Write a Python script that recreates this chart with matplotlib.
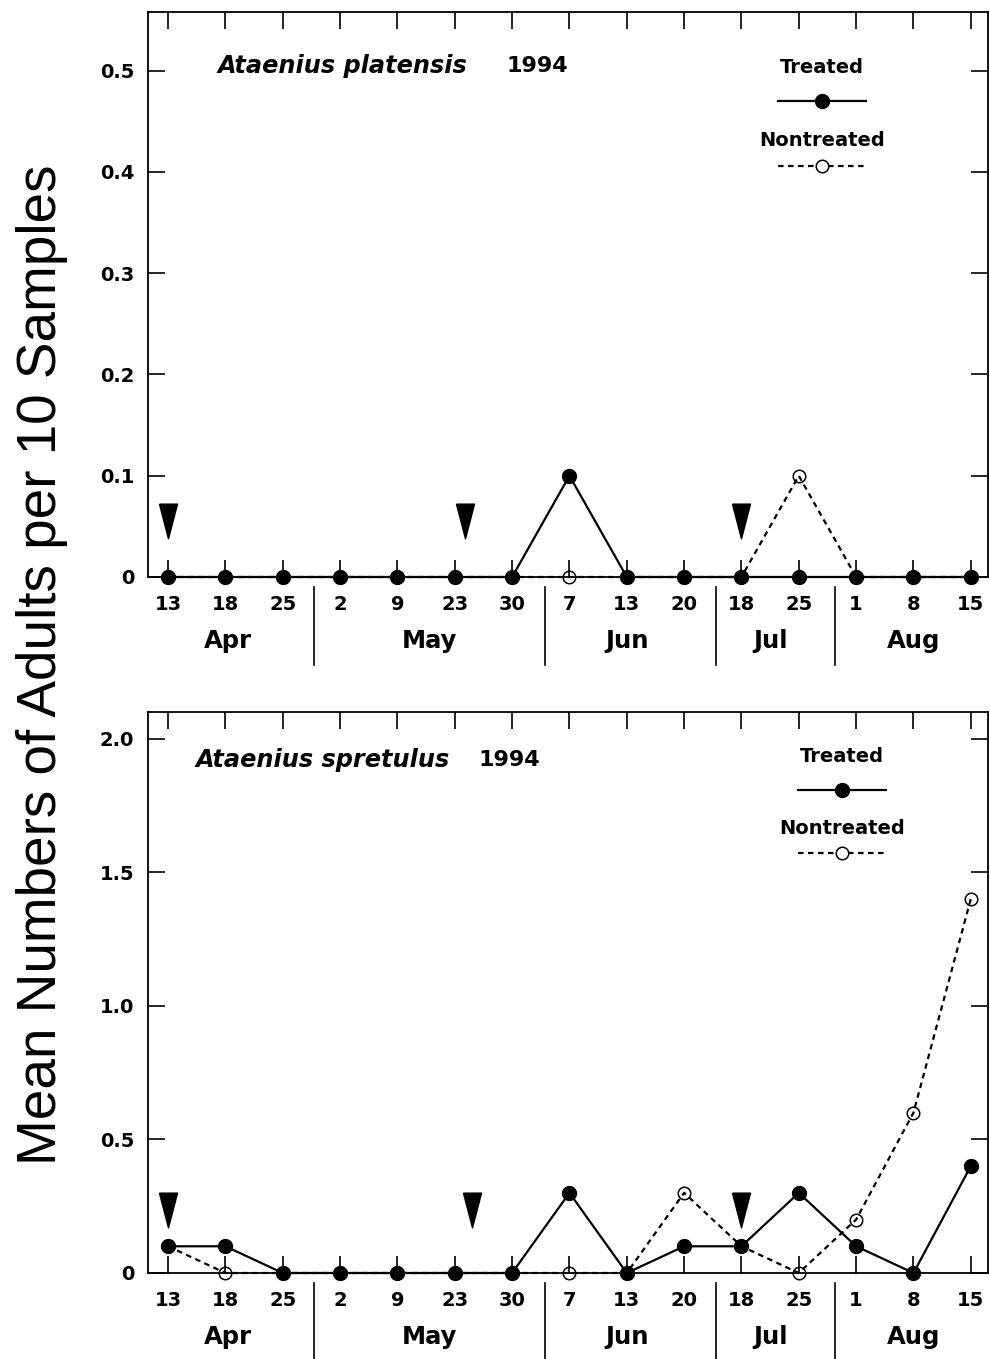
import matplotlib
matplotlib.use("Agg")
import matplotlib.pyplot as plt
from matplotlib.transforms import blended_transform_factory

plt.rcParams['font.family'] = ['DejaVu Sans']

# fechas de muestreo (1994) y meses
dates = ['13', '18', '25', '2', '9', '23', '30', '7', '13', '20', '18', '25', '1', '8', '15']
months = ['Apr', 'May', 'Jun', 'Jul', 'Aug']
month_centers = [1.05, 4.55, 8.0, 10.5, 13.0]
month_breaks = [2.55, 6.58, 9.56, 11.64]

# medias por 10 muestras
platensis_treated = [0, 0, 0, 0, 0, 0, 0, 0.1, 0, 0, 0, 0, 0, 0, 0]
platensis_nontreated = [0, 0, 0, 0, 0, 0, 0, 0, 0, 0, 0, 0.1, 0, 0, 0]
spretulus_treated = [0.1, 0.1, 0, 0, 0, 0, 0, 0.3, 0, 0.1, 0.1, 0.3, 0.1, 0, 0.4]
spretulus_nontreated = [0.1, 0, 0, 0, 0, 0, 0, 0, 0, 0.3, 0.1, 0, 0.2, 0.6, 1.4]

# aplicaciones (flechas)
platensis_arrows_x = [0, 5.18, 10]
platensis_arrow_y = 0.055
spretulus_arrows_x = [0, 5.3, 10]
spretulus_arrow_y = 0.236

W, H = 990, 1359
fig = plt.figure(figsize=(W / 100, H / 100), dpi=100)

arrow_marker = [(-0.26, 0.5), (0.26, 0.5), (0, -0.5), (-0.26, 0.5)]


def panel(rect, treated, nontreated, ymax, yticks, ylabels, species, title_x, year_x, title_y,
          leg, arrows_x, arrow_y):
    ax = fig.add_axes(rect)
    x = list(range(len(dates)))
    ax.plot(x, nontreated, ls=(0, (2.5, 2)), color='black', lw=1.6, marker='o', ms=9,
            mfc='none', mec='black', mew=1.1, clip_on=False, zorder=3)
    ax.plot(x, treated, ls='-', color='black', lw=1.6, marker='o', ms=10,
            mfc='black', mec='black', clip_on=False, zorder=4)
    ax.plot(arrows_x, [arrow_y] * len(arrows_x), ls='none', marker=arrow_marker, ms=25,
            color='black', zorder=5)

    ax.set_xlim(-0.35, 14.3)
    ax.set_ylim(0, ymax)
    ax.set_yticks(yticks)
    ax.set_yticklabels(ylabels, fontsize=14, fontweight='bold')
    ax.set_xticks(x)
    ax.set_xticklabels(dates, fontsize=14, fontweight='bold')
    ax.tick_params(axis='both', direction='in', length=12, width=1.2,
                   top=True, right=True)
    ax.tick_params(axis='x', pad=13)
    ax.tick_params(axis='y', pad=10)
    for s in ax.spines.values():
        s.set_linewidth(1.3)

    # meses bajo el eje
    ax_h = rect[3] * H
    trans = blended_transform_factory(ax.transData, ax.transAxes)
    for xb in month_breaks:
        ax.plot([xb, xb], [-10 / ax_h, -88 / ax_h], color='black', lw=1.2,
                transform=trans, clip_on=False)
    for xc, m in zip(month_centers, months):
        ax.text(xc, -64 / ax_h, m, transform=trans, ha='center', va='center',
                fontsize=17.5, fontweight='bold')

    ax.text(title_x, title_y, species, transform=ax.transAxes, fontsize=17.3,
            fontweight='bold', fontstyle='italic', va='center', ha='left')
    ax.text(year_x, title_y, '1994', transform=ax.transAxes, fontsize=16,
            fontweight='bold', va='center', ha='left')

    # leyenda manual
    lx0, lx1, ty1, ly1, ty2, ly2 = leg
    lxm = (lx0 + lx1) / 2
    ax.text(lxm, ty1, 'Treated', transform=ax.transAxes, ha='center', va='center',
            fontsize=14, fontweight='bold')
    ax.plot([lx0, lx1], [ly1, ly1], color='black', lw=1.6, transform=ax.transAxes)
    ax.plot([lxm], [ly1], marker='o', ms=10, color='black', transform=ax.transAxes)
    ax.text(lxm, ty2, 'Nontreated', transform=ax.transAxes, ha='center', va='center',
            fontsize=14, fontweight='bold')
    ax.plot([lx0, lx1], [ly2, ly2], color='black', lw=1.6, ls=(0, (2.5, 2)),
            transform=ax.transAxes)
    ax.plot([lxm], [ly2], marker='o', ms=9, mfc='white', mec='black', mew=1.1,
            transform=ax.transAxes)
    return ax


r1 = [148 / W, (H - 577) / H, 840 / W, 565 / H]
panel(r1, platensis_treated, platensis_nontreated, 0.558,
      [0, 0.1, 0.2, 0.3, 0.4, 0.5], ['0', '0.1', '0.2', '0.3', '0.4', '0.5'],
      'Ataenius platensis', 0.083, 0.427, 0.904,
      (0.75, 0.855, 0.901, 0.842, 0.773, 0.727),
      platensis_arrows_x, platensis_arrow_y)

r2 = [148 / W, (H - 1273) / H, 840 / W, 561 / H]
panel(r2, spretulus_treated, spretulus_nontreated, 2.1,
      [0, 0.5, 1.0, 1.5, 2.0], ['0', '0.5', '1.0', '1.5', '2.0'],
      'Ataenius spretulus', 0.057, 0.393, 0.914,
      (0.774, 0.879, 0.920, 0.861, 0.793, 0.749),
      spretulus_arrows_x, spretulus_arrow_y)

fig.text(42 / W, 1 - 665 / H, 'Mean Numbers of Adults per 10 Samples', rotation=90,
         ha='center', va='center', fontsize=39.5, family=['Liberation Sans', 'DejaVu Sans'])

fig.savefig('out.png', dpi=100)
